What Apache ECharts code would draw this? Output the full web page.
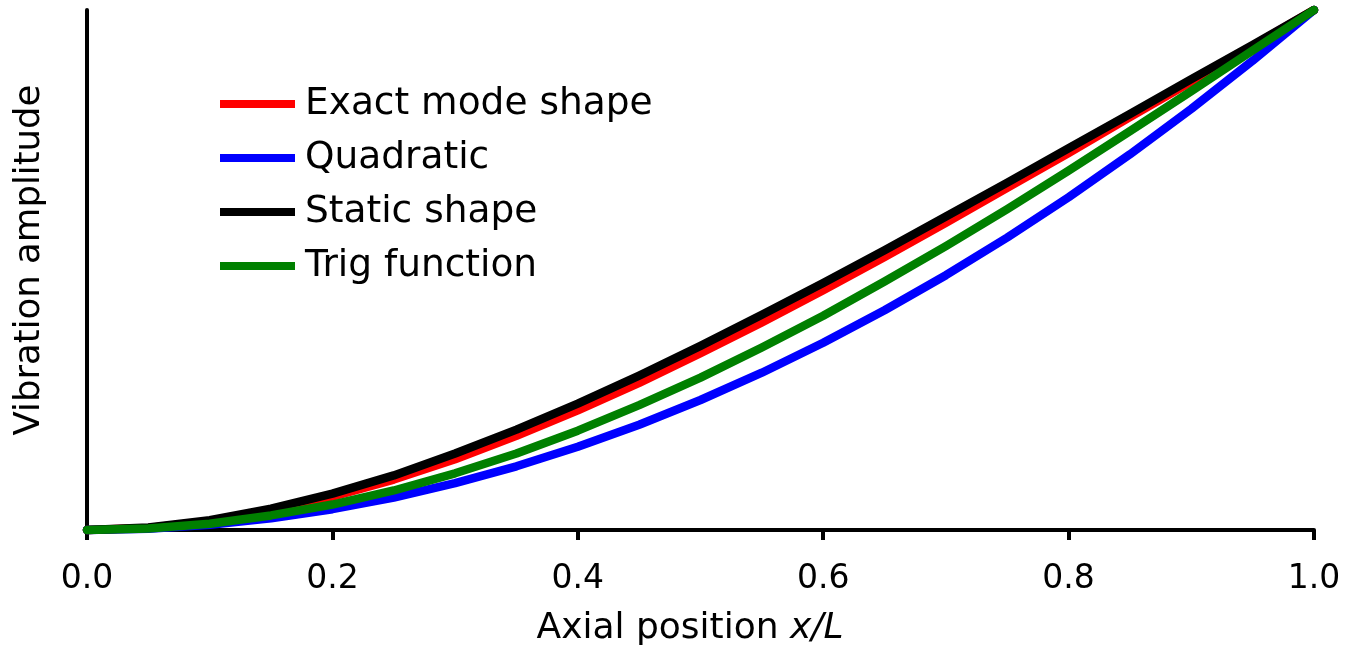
<!DOCTYPE html>
<html>
<head>
<meta charset="utf-8">
<script src="https://cdn.jsdelivr.net/npm/echarts@6/dist/echarts.min.js"></script>
<style>
html,body{margin:0;padding:0;background:#fff;}
#chart{width:1346px;height:648px;}
</style>
</head>
<body>
<div id="chart"></div>
<script>
const xPositions = [0,0.05,0.1,0.15,0.2,0.25,0.3,0.35,0.4,0.45,0.5,0.55,0.6,0.65,0.7,0.75,0.8,0.85,0.9,0.95,1.0];
const exactMode = [0,0.004,0.017,0.037,0.064,0.097,0.136,0.181,0.230,0.283,0.340,0.399,0.461,0.525,0.591,0.658,0.725,0.794,0.862,0.931,1.0];
const quadratic = [0,0.0025,0.010,0.0225,0.040,0.0625,0.090,0.1225,0.160,0.2025,0.250,0.3025,0.360,0.4225,0.490,0.5625,0.640,0.7225,0.810,0.9025,1.0];
const staticShape = [0,0.005,0.019,0.041,0.070,0.105,0.147,0.193,0.243,0.297,0.354,0.414,0.475,0.538,0.603,0.668,0.734,0.800,0.867,0.933,1.0];
const trigFunction = [0,0.003,0.012,0.028,0.049,0.076,0.109,0.147,0.191,0.240,0.293,0.351,0.412,0.478,0.546,0.617,0.691,0.767,0.844,0.922,1.0];
const seriesNames = ['Exact mode shape','Quadratic','Static shape','Trig function'];
const seriesColors = ['#ff0000','#0000ff','#000000','#008000'];
const seriesValues = [exactMode, quadratic, staticShape, trigFunction];
const xAxisTitle = 'Axial position ';
const xAxisTitleItalic = 'x/L';
const yAxisTitle = 'Vibration amplitude';

const font = 'DejaVu Sans';
const chart = echarts.init(document.getElementById('chart'));
chart.setOption({
  animation:false,
  backgroundColor:'#fff',
  grid:{left:87,right:32,top:10,bottom:118},
  legend:{
    orient:'vertical',left:220,top:84,padding:0,
    icon:'rect',itemWidth:75,itemHeight:8,itemGap:14,
    data:seriesNames,
    textStyle:{fontFamily:font,fontSize:37.5,color:'#000',lineHeight:40,padding:[0,0,0,5]}
  },
  graphic:[
    {type:'text',x:690,y:647,style:{
      text:'{a|'+xAxisTitle+'}{b|'+xAxisTitleItalic+'}',
      align:'center',verticalAlign:'bottom',
      rich:{a:{fontFamily:font,fontSize:36,fill:'#000'},b:{fontFamily:font,fontSize:36,fill:'#000',fontStyle:'italic'}}
    }},
    {type:'text',x:30,y:260,rotation:Math.PI/2,style:{
      text:yAxisTitle,fontFamily:font,fontSize:35.5,fill:'#000',
      align:'center',verticalAlign:'middle'
    }}
  ],
  xAxis:{
    type:'value',min:0,max:1,interval:0.2,
    axisLine:{show:true,onZero:false,lineStyle:{color:'#000',width:4}},
    axisTick:{show:true,length:10,lineStyle:{color:'#000',width:4}},
    axisLabel:{fontFamily:font,fontSize:33,color:'#000',margin:33,
      formatter:v=>v.toFixed(1)},
    splitLine:{show:false}
  },
  yAxis:{
    type:'value',min:0,max:1,
    axisLine:{show:true,lineStyle:{color:'#000',width:4}},
    axisTick:{show:false},axisLabel:{show:false},splitLine:{show:false}
  },
  series:seriesNames.map((n,i)=>({
    name:n,type:'line',showSymbol:false,symbol:'none',
    data:xPositions.map((x,j)=>[x,seriesValues[i][j]]),
    color:seriesColors[i],
    lineStyle:{color:seriesColors[i],width:8.5,cap:'round',join:'round'},
    itemStyle:{color:seriesColors[i]},
    clip:false
  }))
});
</script>
</body>
</html>
